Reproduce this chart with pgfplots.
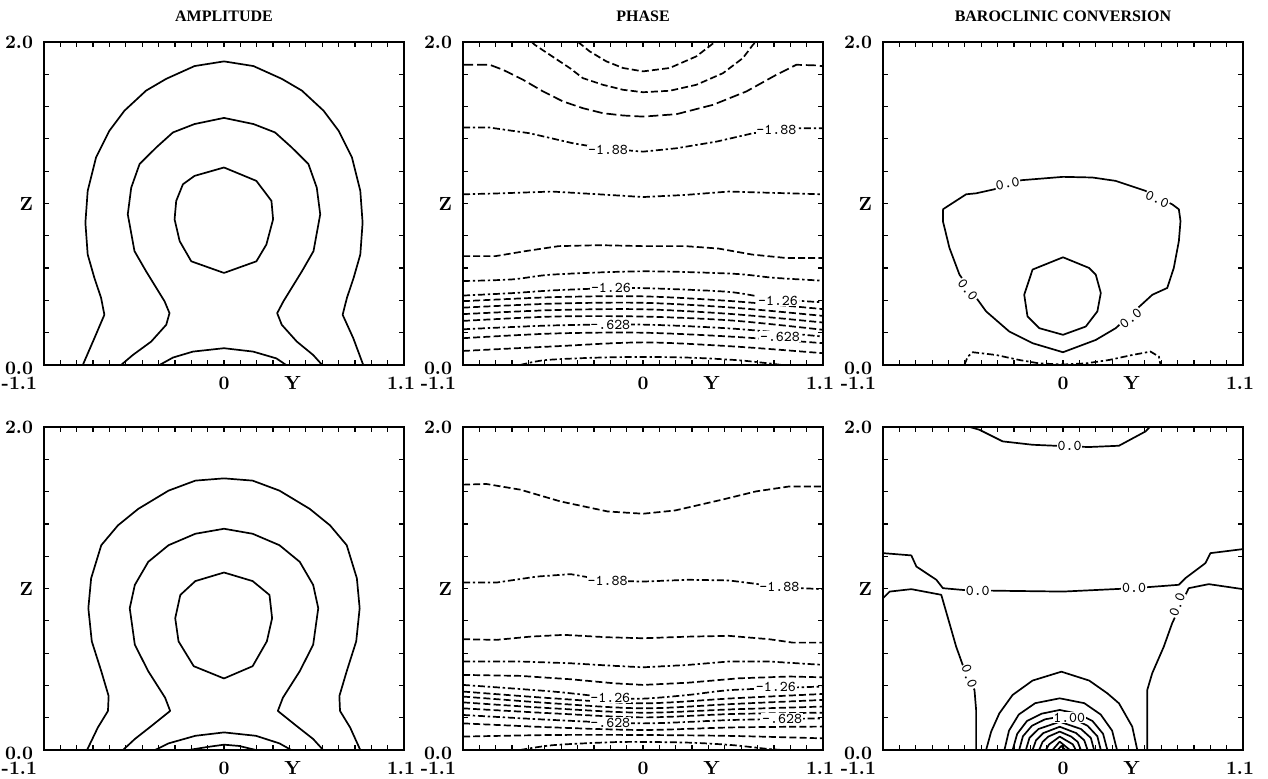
\documentclass[border=0pt]{standalone}
\usepackage{fontspec}
\newfontfamily\titlefont{Liberation Serif}
\usepackage{pgfplots}
\pgfplotsset{compat=1.18}
\newcommand\ticklab{\bfseries\fontsize{9.5}{10}\selectfont}
\tikzset{
  clab/.style={fill=white, inner sep=0.4pt, font=\ttfamily\fontsize{7.5}{8}\selectfont},
  sol/.style={black, line width=0.85pt, line join=round},
  ph/.style={black, line width=0.85pt, dash pattern=on 3.5pt off 1.6pt},
  phl/.style={black, line width=0.85pt, dash pattern=on 5pt off 2pt},
  phd/.style={black, line width=0.85pt, dash pattern=on 3.5pt off 1.4pt on 1.2pt off 1.4pt},
}
\pgfplotsset{
  panel/.style={
    width=180pt, height=161.5pt, scale only axis,
    xmin=-1.1, xmax=1.1, ymin=0, ymax=2,
    xtick={-1.1,-1.0,...,1.15}, ytick={0,0.2,...,2.05},
    xticklabels={}, yticklabels={},
    xtick pos=both, ytick pos=both,
    tick align=inside, major tick length=2.6pt,
    every tick/.style={black, line width=0.6pt},
    axis line style={line width=1.1pt},
    clip mode=individual,
    after end axis/.code={
      \node[anchor=east, font=\ticklab, xshift=-2pt] at (axis cs:-1.1,2) {2.0};
      \node[anchor=east, font=\ticklab, xshift=-2pt, yshift=-1.5pt] at (axis cs:-1.1,0) {0.0};
      \node[anchor=east, font=\ticklab, xshift=-2pt] at (axis cs:-1.1,1) {Z};
      \node[anchor=east, font=\ticklab, yshift=-9pt] at (axis cs:-1.1,0) {-1.1};
      \node[font=\ticklab, yshift=-9pt] at (axis cs:0,0) {0};
      \node[font=\ticklab, yshift=-9pt] at (axis cs:0.42,0) {Y};
      \node[font=\ticklab, xshift=-1.5pt, yshift=-9pt] at (axis cs:1.1,0) {1.1};
    },
  },
}
\begin{document}
\begin{tikzpicture}
\path[use as bounding box] (0,0) rectangle (634pt,389pt);
\node[font=\titlefont\bfseries\fontsize{8}{9}\selectfont] at (112pt,381pt) {AMPLITUDE};
\node[font=\titlefont\bfseries\fontsize{8}{9}\selectfont] at (321.5pt,381pt) {PHASE};
\node[font=\titlefont\bfseries\fontsize{8}{9}\selectfont] at (531.5pt,381pt) {BAROCLINIC CONVERSION};

% ---------------- Amplitude, top
\begin{axis}[panel, at={(22pt,206.5pt)}, anchor=south west]
\addplot[sol] coordinates {(-0.863,0) (-0.792,0.166) (-0.731,0.311) (-0.751,0.415) (-0.792,0.539) (-0.833,0.684) (-0.847,0.881) (-0.833,1.078) (-0.782,1.285) (-0.700,1.451) (-0.608,1.575) (-0.476,1.699) (-0.353,1.772) (-0.180,1.851) (0,1.880) (0.180,1.851) (0.353,1.772) (0.476,1.699) (0.608,1.575) (0.700,1.451) (0.782,1.285) (0.833,1.078) (0.847,0.881) (0.833,0.684) (0.792,0.539) (0.751,0.415) (0.725,0.311) (0.790,0.166) (0.851,0)};
\addplot[sol] coordinates {(-0.629,0) (-0.557,0.062) (-0.445,0.145) (-0.353,0.249) (-0.333,0.321) (-0.363,0.394) (-0.476,0.580) (-0.547,0.705) (-0.588,0.933) (-0.567,1.098) (-0.516,1.244) (-0.414,1.347) (-0.312,1.440) (-0.180,1.492) (0,1.530) (0.180,1.492) (0.312,1.440) (0.414,1.347) (0.516,1.244) (0.567,1.098) (0.588,0.933) (0.547,0.705) (0.476,0.580) (0.363,0.394) (0.325,0.321) (0.353,0.249) (0.445,0.145) (0.545,0.062) (0.600,0)};
\addplot[sol] coordinates {(0,1.223) (-0.180,1.171) (-0.251,1.119) (-0.292,1.016) (-0.302,0.902) (-0.271,0.767) (-0.200,0.642) (0,0.570) (0.198,0.642) (0.259,0.746) (0.300,0.902) (0.290,1.016) (0.198,1.140) (0,1.223)};
\addplot[sol] coordinates {(-0.394,0) (-0.312,0.046) (-0.190,0.083) (0,0.104) (0.178,0.083) (0.320,0.041) (0.380,0)};
\end{axis}

% ---------------- Phase, top
\begin{axis}[panel, at={(231.5pt,206.5pt)}, anchor=south west]
\addplot[ph] coordinates {(-0.397,2) (-0.326,1.942) (-0.224,1.880) (-0.122,1.839) (0,1.818) (0.163,1.839) (0.326,1.911) (0.418,1.983) (0.438,2)};
\addplot[ph] coordinates {(-0.680,2) (-0.662,1.983) (-0.570,1.921) (-0.448,1.839) (-0.367,1.776) (-0.245,1.735) (-0.122,1.704) (0,1.689) (0.163,1.698) (0.326,1.735) (0.489,1.807) (0.611,1.901) (0.672,1.983) (0.690,2)};
\addplot[phl] coordinates {(-1.1,1.859) (-0.937,1.859) (-0.856,1.828) (-0.733,1.766) (-0.611,1.694) (-0.489,1.632) (-0.367,1.590) (-0.245,1.559) (-0.122,1.545) (0,1.538) (0.204,1.553) (0.428,1.611) (0.632,1.694) (0.815,1.797) (0.937,1.859) (1.059,1.855) (1.1,1.850)};
\addplot[phd] coordinates {(-1.1,1.470) (-0.937,1.470) (-0.693,1.435) (-0.428,1.373) (-0.245,1.342) (0,1.321) (0.204,1.342) (0.448,1.383) (0.672,1.435) (0.937,1.466) (1.1,1.466)};
\addplot[phd] coordinates {(-1.1,1.057) (-0.902,1.062) (-0.556,1.074) (-0.271,1.057) (0,1.040) (0.259,1.053) (0.524,1.074) (0.788,1.066) (1.1,1.057)};
\addplot[ph] coordinates {(-1.1,0.674) (-0.902,0.674) (-0.719,0.705) (-0.515,0.736) (-0.271,0.742) (0,0.736) (0.259,0.736) (0.462,0.721) (0.666,0.684) (0.870,0.663) (1.1,0.663)};
\addplot[phd, smooth] coordinates {(-1.1,0.520) (-0.8,0.530) (-0.55,0.560) (0,0.580) (0.55,0.565) (0.8,0.540) (1.1,0.522)};
\addplot[phd, smooth] coordinates {(-1.1,0.430) (-0.8,0.445) (-0.55,0.462) (-0.2,0.476) (0,0.476) (0.3,0.465) (0.55,0.450) (0.8,0.410) (1.1,0.388)};
\addplot[ph, smooth] coordinates {(-1.1,0.395) (-0.55,0.420) (0,0.425) (0.55,0.395) (1.1,0.346)};
\addplot[ph, smooth] coordinates {(-1.1,0.355) (-0.55,0.380) (0,0.385) (0.55,0.355) (1.1,0.304)};
\addplot[ph, smooth] coordinates {(-1.1,0.315) (-0.55,0.340) (0,0.345) (0.55,0.315) (1.1,0.263)};
\addplot[ph, smooth] coordinates {(-1.1,0.273) (-0.55,0.300) (0,0.300) (0.55,0.275) (1.1,0.218)};
\addplot[phd, smooth] coordinates {(-1.1,0.221) (-0.55,0.245) (0,0.250) (0.55,0.225) (1.1,0.176)};
\addplot[ph, smooth] coordinates {(-1.1,0.166) (-0.55,0.195) (0,0.200) (0.55,0.175) (1.1,0.135)};
\addplot[ph, smooth] coordinates {(-1.1,0.087) (-0.55,0.115) (0,0.140) (0.55,0.115) (1.1,0.073)};
\addplot[phd, smooth] coordinates {(-0.75,0) (-0.6,0.030) (-0.3,0.045) (0,0.050) (0.3,0.045) (0.6,0.028) (0.85,0)};
\node[clab] at (axis cs:-0.214,1.330) {-1.88};
\node[clab] at (axis cs:0.815,1.455) {-1.88};
\node[clab] at (axis cs:-0.196,0.476) {-1.26};
\node[clab] at (axis cs:0.825,0.398) {-1.26};
\node[clab] at (axis cs:-0.200,0.248) {-.628};
\node[clab] at (axis cs:0.837,0.174) {-.628};
\end{axis}

% ---------------- Baroclinic, top
\begin{axis}[panel, at={(441.5pt,206.5pt)}, anchor=south west]
\addplot[sol] coordinates {(-0.734,0.964) (-0.592,1.057) (-0.531,1.063) (-0.420,1.088) (-0.257,1.144) (0,1.165) (0.180,1.161) (0.322,1.140) (0.505,1.078) (0.667,0.995) (0.708,0.964) (0.718,0.891) (0.708,0.767) (0.677,0.601) (0.637,0.477) (0.546,0.435) (0.322,0.228) (0.200,0.155) (0,0.079) (-0.186,0.135) (-0.328,0.207) (-0.470,0.332) (-0.633,0.560) (-0.694,0.725) (-0.734,0.891) (-0.734,0.964)};
\addplot[sol] coordinates {(0,0.667) (-0.186,0.591) (-0.237,0.435) (-0.217,0.301) (-0.145,0.228) (0,0.187) (0.139,0.238) (0.210,0.332) (0.231,0.446) (0.200,0.560) (0.159,0.601) (0,0.667)};
\addplot[phd] coordinates {(-0.603,0) (-0.582,0.052) (-0.551,0.079) (-0.409,0.062) (-0.267,0.031) (-0.145,0.010) (0,0.003) (0.140,0.010) (0.281,0.031) (0.423,0.062) (0.535,0.083) (0.586,0.052) (0.596,0)};
\node[clab, rotate=10] at (axis cs:-0.338,1.123) {0.0};
\node[clab, rotate=-24] at (axis cs:0.576,1.026) {0.0};
\node[clab, rotate=-52] at (axis cs:-0.582,0.466) {0.0};
\node[clab, rotate=38] at (axis cs:0.413,0.290) {0.0};
\end{axis}

% ---------------- Amplitude, bottom
\begin{axis}[panel, at={(22pt,14pt)}, anchor=south west]
\addplot[sol] coordinates {(-0.837,0) (-0.771,0.139) (-0.709,0.242) (-0.705,0.334) (-0.750,0.488) (-0.808,0.673) (-0.829,0.878) (-0.812,1.063) (-0.750,1.268) (-0.648,1.391) (-0.524,1.493) (-0.339,1.606) (-0.175,1.668) (0,1.682) (0.175,1.668) (0.339,1.606) (0.524,1.493) (0.648,1.391) (0.750,1.268) (0.812,1.063) (0.829,0.878) (0.808,0.673) (0.750,0.488) (0.705,0.334) (0.709,0.242) (0.771,0.139) (0.833,0)};
\addplot[sol] coordinates {(-0.617,0) (-0.545,0.068) (-0.442,0.150) (-0.329,0.242) (-0.360,0.324) (-0.463,0.488) (-0.545,0.652) (-0.576,0.878) (-0.545,1.022) (-0.463,1.165) (-0.339,1.268) (-0.175,1.339) (0,1.370) (0.175,1.339) (0.339,1.268) (0.463,1.165) (0.545,1.022) (0.576,0.878) (0.545,0.652) (0.463,0.488) (0.360,0.324) (0.329,0.242) (0.442,0.150) (0.545,0.068) (0.606,0)};
\addplot[sol] coordinates {(0,1.099) (-0.175,1.046) (-0.267,0.960) (-0.298,0.816) (-0.278,0.673) (-0.185,0.519) (0,0.443) (0.175,0.519) (0.262,0.673) (0.294,0.816) (0.278,0.960) (0.175,1.046) (0,1.099)};
\addplot[sol] coordinates {(-0.421,0) (-0.339,0.041) (-0.175,0.088) (0,0.109) (0.195,0.088) (0.339,0.041) (0.411,0)};
\addplot[sol] coordinates {(-0.216,0) (-0.093,0.020) (0,0.033) (0.093,0.025) (0.195,0)};
\end{axis}

% ---------------- Phase, bottom
\begin{axis}[panel, at={(231.5pt,14pt)}, anchor=south west]
\addplot[ph] coordinates {(-1.1,1.643) (-0.956,1.647) (-0.750,1.612) (-0.504,1.539) (-0.216,1.477) (0,1.463) (0.195,1.483) (0.483,1.550) (0.689,1.601) (0.894,1.632) (1.1,1.632)};
\addplot[phd] coordinates {(-1.1,1.037) (-0.894,1.037) (-0.648,1.074) (-0.442,1.089) (-0.216,1.048) (0,1.043) (0.278,1.054) (0.524,1.050) (0.689,1.029) (0.833,1.008) (1.1,0.996)};
\addplot[ph] coordinates {(-1.1,0.686) (-0.894,0.682) (-0.689,0.702) (-0.483,0.713) (-0.216,0.698) (0,0.692) (0.278,0.702) (0.524,0.707) (0.771,0.686) (0.915,0.665) (1.1,0.665)};
\addplot[phd] coordinates {(-1.1,0.548) (-0.750,0.548) (-0.442,0.537) (-0.175,0.521) (0,0.512) (0.278,0.527) (0.524,0.548) (0.771,0.548) (1.1,0.527)};
\addplot[ph] coordinates {(-1.1,0.465) (-0.750,0.459) (-0.442,0.438) (-0.175,0.413) (0,0.403) (0.278,0.417) (0.586,0.444) (0.894,0.455) (1.1,0.450)};
\addplot[phd, smooth] coordinates {(-1.1,0.403) (-0.55,0.362) (-0.2,0.325) (0,0.318) (0.278,0.341) (0.55,0.372) (1.1,0.393)};
\addplot[ph, smooth] coordinates {(-1.1,0.362) (-0.55,0.320) (0,0.289) (0.55,0.320) (1.1,0.347)};
\addplot[ph, smooth] coordinates {(-1.1,0.331) (-0.55,0.289) (0,0.258) (0.55,0.285) (1.1,0.310)};
\addplot[ph, smooth] coordinates {(-1.1,0.295) (-0.55,0.258) (0,0.231) (0.55,0.252) (1.1,0.269)};
\addplot[ph, smooth] coordinates {(-1.1,0.258) (-0.55,0.227) (0,0.202) (0.55,0.223) (1.1,0.231)};
\addplot[phd, smooth] coordinates {(-1.1,0.217) (-0.55,0.186) (0,0.165) (0.55,0.186) (1.1,0.196)};
\addplot[ph, smooth] coordinates {(-1.1,0.165) (-0.55,0.140) (0,0.124) (0.55,0.140) (1.1,0.145)};
\addplot[ph, smooth] coordinates {(-1.1,0.083) (-0.55,0.093) (0,0.093) (0.55,0.087) (1.1,0.072)};
\addplot[phd, smooth] coordinates {(-0.75,0) (-0.55,0.030) (-0.2,0.048) (0,0.050) (0.3,0.045) (0.55,0.030) (0.75,0.008) (0.85,0)};
\node[clab] at (axis cs:-0.216,1.045) {-1.88};
\node[clab] at (axis cs:0.833,1.008) {-1.88};
\node[clab] at (axis cs:-0.200,0.325) {-1.26};
\node[clab] at (axis cs:0.812,0.388) {-1.26};
\node[clab] at (axis cs:-0.200,0.170) {-.628};
\node[clab] at (axis cs:0.850,0.194) {-.628};
\end{axis}

% ---------------- Baroclinic, bottom
\begin{axis}[panel, at={(441.5pt,14pt)}, anchor=south west]
\addplot[sol] coordinates {(-0.570,2) (-0.511,1.983) (-0.369,1.911) (-0.186,1.890) (0.040,1.880) (0.159,1.876) (0.342,1.884) (0.505,1.973) (0.530,2)};
\addplot[sol] coordinates {(-1.1,1.219) (-0.927,1.205) (-0.896,1.136) (-0.774,1.054) (-0.734,1.002) (-0.600,0.990) (-0.389,0.986) (0,0.981) (0.434,1.002) (0.708,1.023) (0.748,1.064) (0.870,1.157) (0.901,1.219) (1.1,1.244)};
\addplot[sol] coordinates {(-1.1,0.940) (-1.059,0.981) (-0.927,0.996) (-0.744,0.961) (-0.694,0.785) (-0.653,0.640) (-0.613,0.527) (-0.541,0.372) (-0.531,0.248) (-0.531,0)};
\addplot[sol] coordinates {(1.1,0.996) (0.891,1.027) (0.768,1.002) (0.667,0.785) (0.616,0.640) (0.545,0.475) (0.515,0.372) (0.515,0)};
\addplot[sol] coordinates {(-0.470,0) (-0.439,0.114) (-0.389,0.227) (-0.308,0.341) (-0.186,0.430) (-0.010,0.485) (0.160,0.430) (0.271,0.351) (0.342,0.289) (0.423,0.145) (0.454,0)};
\addplot[sol] coordinates {(-0.358,0) (-0.330,0.120) (-0.270,0.220) (-0.170,0.290) (-0.020,0.320) (0.130,0.290) (0.230,0.220) (0.300,0.120) (0.330,0)};
\addplot[sol] coordinates {(-0.308,0) (-0.280,0.100) (-0.220,0.180) (-0.130,0.225) (-0.020,0.248) (0.090,0.225) (0.180,0.180) (0.245,0.100) (0.271,0)};
\addplot[sol] coordinates {(-0.268,0) (-0.245,0.085) (-0.190,0.150) (-0.110,0.190) (-0.020,0.206) (0.070,0.190) (0.150,0.150) (0.210,0.085) (0.231,0)};
\addplot[sol] coordinates {(-0.227,0) (-0.205,0.075) (-0.150,0.130) (-0.020,0.175) (0.110,0.130) (0.170,0.075) (0.190,0)};
\addplot[sol] coordinates {(-0.186,0) (-0.165,0.060) (-0.120,0.105) (-0.020,0.144) (0.080,0.105) (0.130,0.060) (0.150,0)};
\addplot[sol] coordinates {(-0.146,0) (-0.125,0.050) (-0.090,0.083) (-0.020,0.114) (0.050,0.083) (0.090,0.050) (0.109,0)};
\addplot[sol] coordinates {(-0.105,0) (-0.085,0.035) (-0.020,0.083) (0.060,0.035) (0.078,0)};
\addplot[sol] coordinates {(-0.064,0) (-0.020,0.052) (0.042,0)};
\addplot[sol] coordinates {(-0.033,0) (-0.010,0.025) (0.014,0)};
\node[clab] at (axis cs:0.040,1.880) {0.0};
\node[clab] at (axis cs:-0.521,0.986) {0.0};
\node[clab] at (axis cs:0.434,1.002) {0.0};
\node[clab, rotate=-70] at (axis cs:-0.572,0.455) {0.0};
\node[clab, rotate=70] at (axis cs:0.698,0.899) {0.0};
\node[clab] at (axis cs:0.038,0.200) {1.00};
\end{axis}
\end{tikzpicture}
\end{document}
